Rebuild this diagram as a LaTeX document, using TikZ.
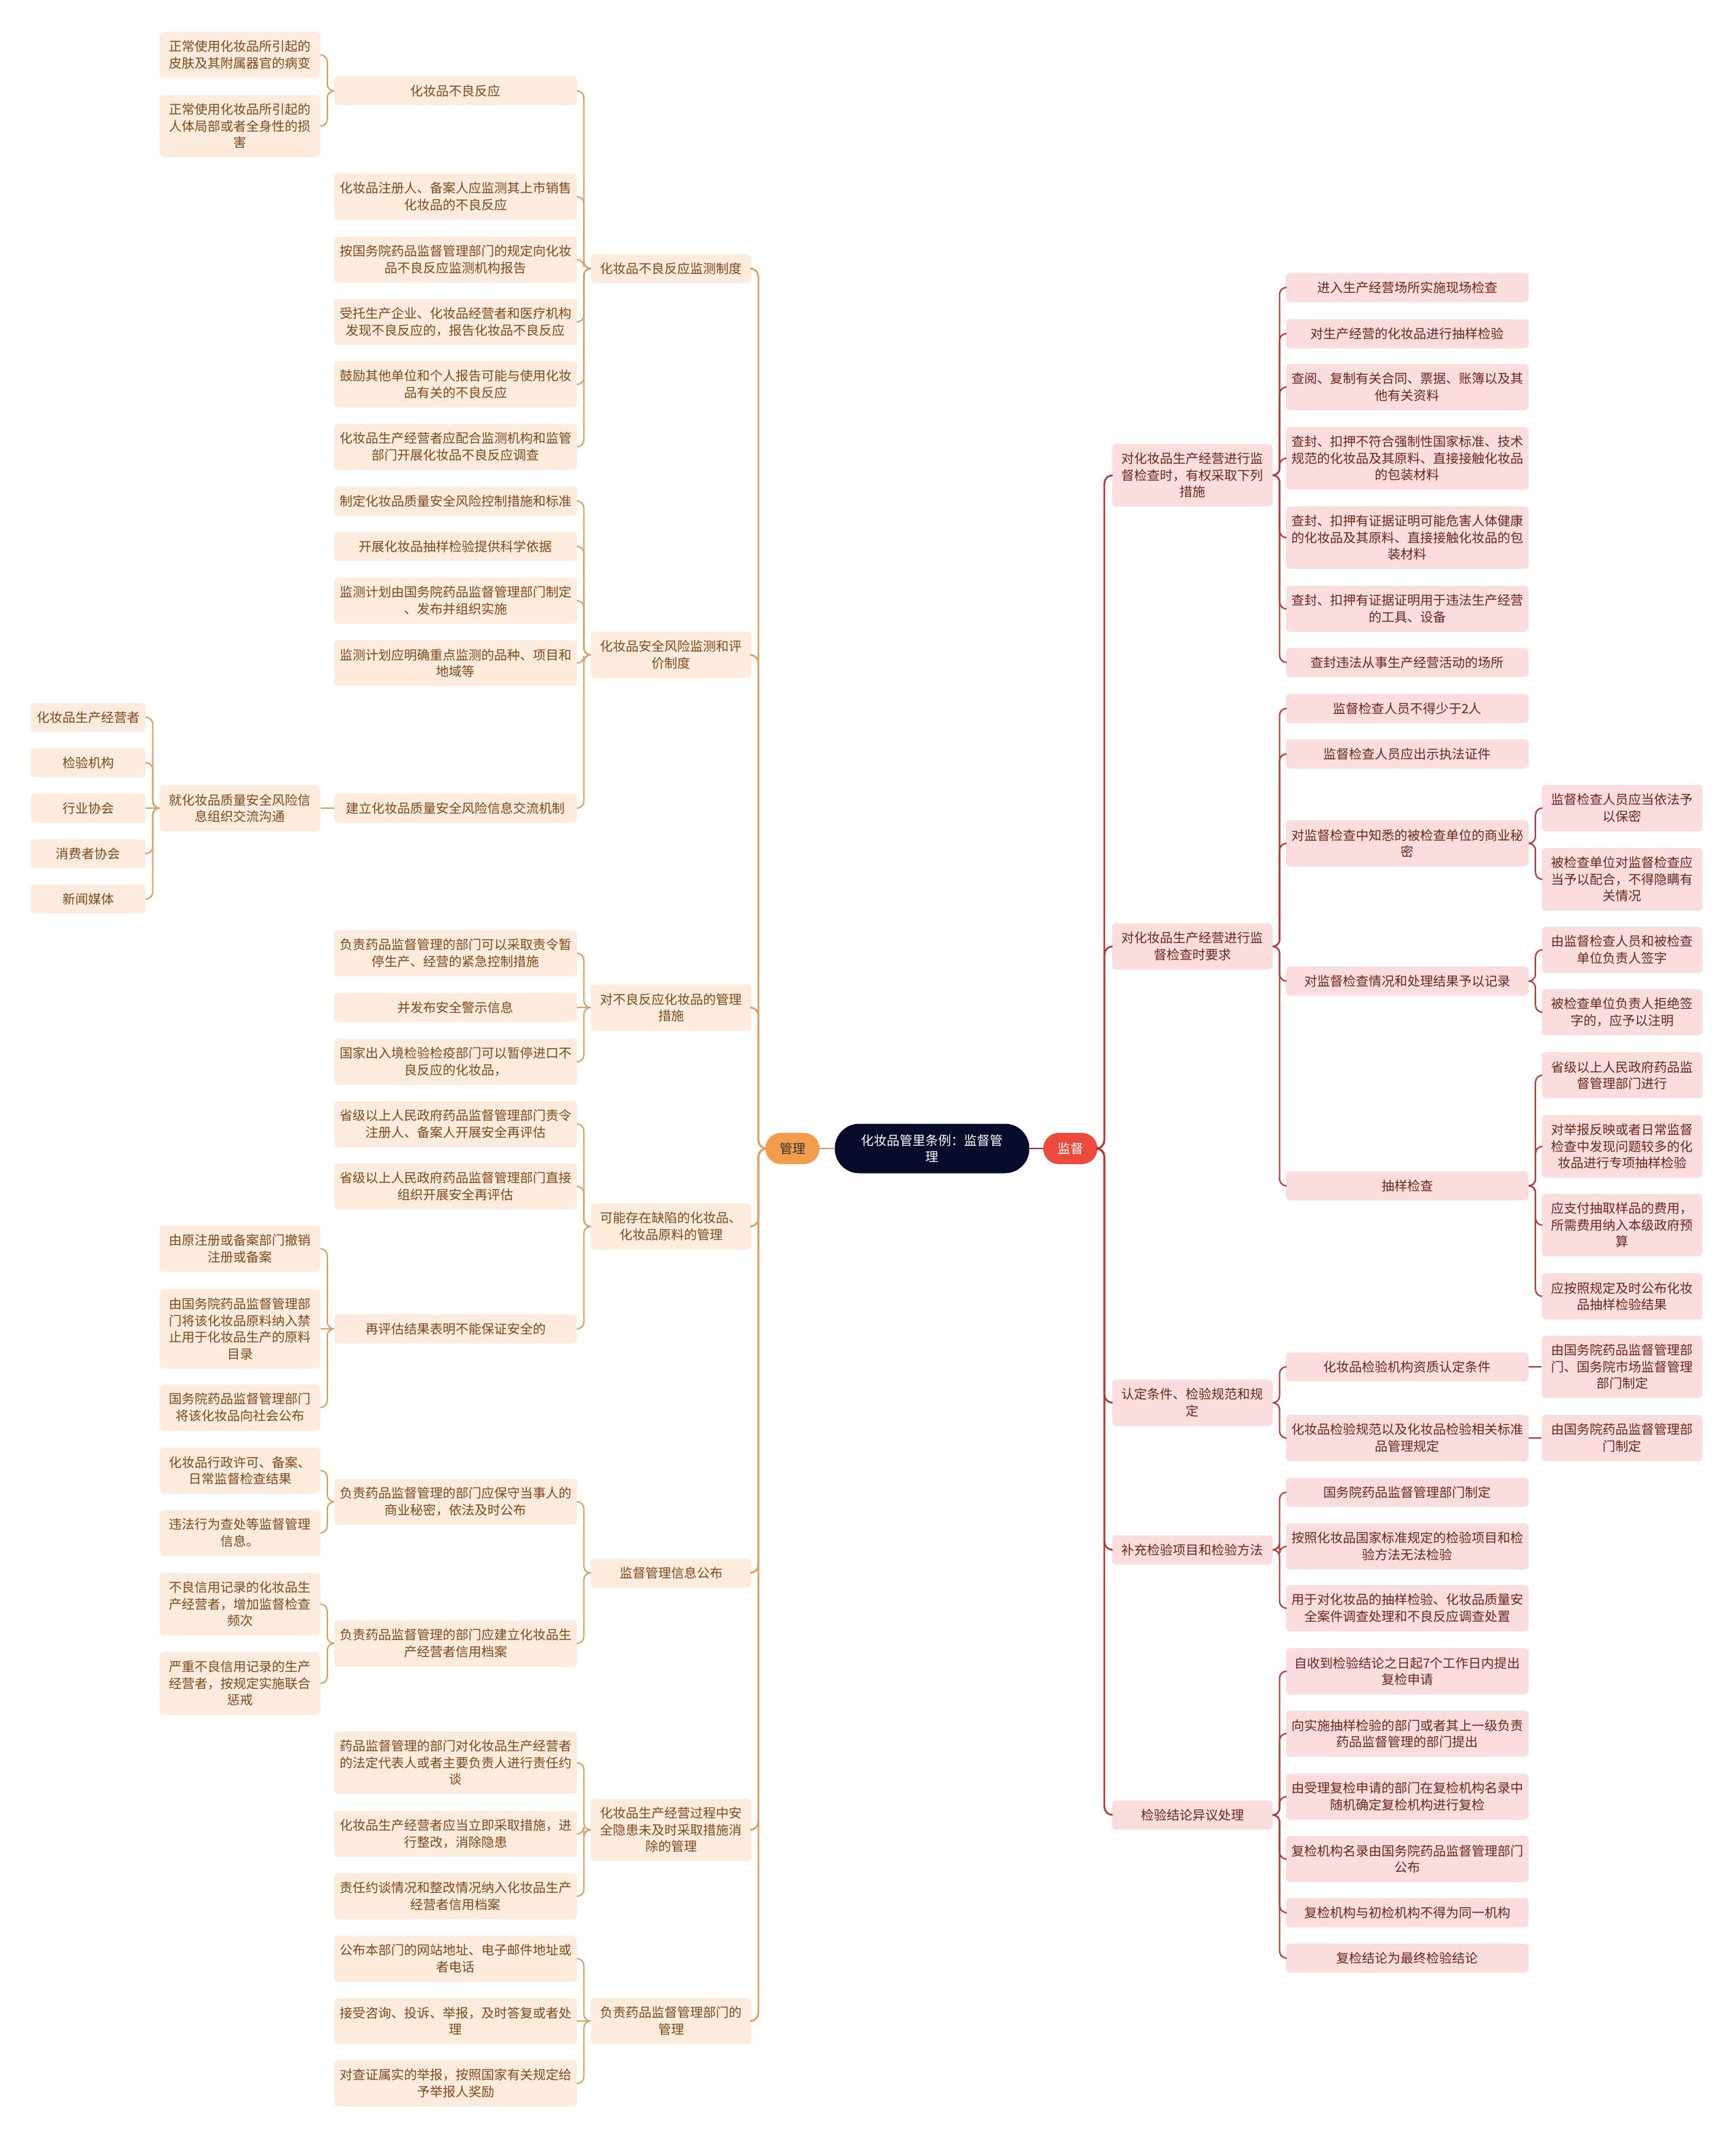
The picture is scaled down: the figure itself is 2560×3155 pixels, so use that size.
\documentclass[tikz,border=0pt]{standalone}
\usepackage{fontspec}
\setmainfont{Noto Sans CJK SC}
\definecolor{lfill}{HTML}{FDECDE}
\definecolor{rfill}{HTML}{FCDDDD}
\definecolor{lline}{HTML}{DDA062}
\definecolor{rline}{HTML}{BE322D}
\definecolor{ltext}{HTML}{7E4818}
\definecolor{rtext}{HTML}{6A261C}
\definecolor{cfill}{HTML}{080C2C}
\definecolor{gfill}{HTML}{F29D4B}
\definecolor{jfill}{HTML}{EC4A3C}
\tikzset{
 base/.style={rounded corners=6pt, align=center, inner xsep=4pt, inner ysep=2pt, font=\fontsize{19}{24.6}\selectfont},
 lbox/.style={base, fill=lfill, text=ltext},
 rbox/.style={base, fill=rfill, text=rtext},
 wA/.style={minimum width=358pt},
 wB/.style={minimum width=237pt},
 wC/.style={minimum width=169pt},
 n1/.style={minimum height=43pt},
 n2/.style={minimum height=68pt},
 n3/.style={minimum height=92pt},
 n4/.style={minimum height=117pt},
 lconn/.style={draw=lline, line width=2pt, rounded corners=10pt},
 rconn/.style={draw=rline, line width=2pt, rounded corners=10pt},
}
\newcommand\lk[2]{\draw[lconn] (#1.west) -- ++(-10,0) |- (#2.east);}
\newcommand\rk[2]{\draw[rconn] (#1.east) -- ++(10,0) |- (#2.west);}
\newcommand\ls[2]{\draw[lconn] (#1.west) -- (#2.east);}
\newcommand\rs[2]{\draw[rconn] (#1.east) -- (#2.west);}
\begin{document}
\begin{tikzpicture}[x=1pt,y=-1pt]
\fill[white] (0,0) rectangle (2560,3155);
\useasboundingbox (0,0) rectangle (2560,3155);

% centre
\node[base, fill=cfill, text=white, rounded corners=36pt, minimum width=287pt, minimum height=73pt] (c0) at (1375,1694) {化妆品管里条例：监督管\\理};
\node[base, fill=gfill, text=black!80, rounded corners=23pt, minimum width=80pt, minimum height=46pt] (gl) at (1169,1694) {管理};
\node[base, fill=jfill, text=white, rounded corners=23pt, minimum width=80pt, minimum height=46pt] (jd) at (1579,1694) {监督};
\draw[draw=lline, line width=2.5pt] (c0.west) -- (gl.east);
\draw[draw=rline, line width=2.5pt] (c0.east) -- (jd.west);

% ===== LEFT: level 1 =====
\node[lbox,wB,n1] (LA) at (990,396) {化妆品不良反应监测制度};
\node[lbox,wB,n2] (LB) at (990,966) {化妆品安全风险监测和评\\价制度};
\node[lbox,wB,n2] (LC) at (990,1486) {对不良反应化妆品的管理\\措施};
\node[lbox,wB,n2] (LD) at (990,1809) {可能存在缺陷的化妆品、\\化妆品原料的管理};
\node[lbox,wB,n1] (LE) at (990,2320) {监督管理信息公布};
\node[lbox,wB,n3] (LF) at (990,2699) {化妆品生产经营过程中安\\全隐患未及时采取措施消\\除的管理};
\node[lbox,wB,n2] (LG) at (990,2981) {负责药品监督管理部门的\\管理};
\foreach \n in {LA,LB,LC,LD,LE,LF,LG} {\draw[draw=lline, line width=2.5pt, rounded corners=12pt] (gl.west) -- ++(-10,0) |- (\n.east);}

% A
\node[lbox,wA,n1] (A1) at (672,134) {化妆品不良反应};
\node[lbox,wA,n2] (A2) at (672,290) {化妆品注册人、备案人应监测其上市销售\\化妆品的不良反应};
\node[lbox,wA,n2] (A3) at (672,383) {按国务院药品监督管理部门的规定向化妆\\品不良反应监测机构报告};
\node[lbox,wA,n2] (A4) at (672,475) {受托生产企业、化妆品经营者和医疗机构\\发现不良反应的，报告化妆品不良反应};
\node[lbox,wA,n2] (A5) at (672,567) {鼓励其他单位和个人报告可能与使用化妆\\品有关的不良反应};
\node[lbox,wA,n2] (A6) at (672,659) {化妆品生产经营者应配合监测机构和监管\\部门开展化妆品不良反应调查};
\foreach \n in {A1,A2,A3,A4,A5,A6} {\lk{LA}{\n}}
\node[lbox,wB,n2] (A1a) at (354,81) {正常使用化妆品所引起的\\皮肤及其附属器官的病变};
\node[lbox,wB,n3] (A1b) at (354,186) {正常使用化妆品所引起的\\人体局部或者全身性的损\\害};
\lk{A1}{A1a} \lk{A1}{A1b}

% B
\node[lbox,wA,n1] (B1) at (672,739) {制定化妆品质量安全风险控制措施和标准};
\node[lbox,wA,n1] (B2) at (672,806) {开展化妆品抽样检验提供科学依据};
\node[lbox,wA,n2] (B3) at (672,886) {监测计划由国务院药品监督管理部门制定\\、发布并组织实施};
\node[lbox,wA,n2] (B4) at (672,978) {监测计划应明确重点监测的品种、项目和\\地域等};
\node[lbox,wA,n1] (B5) at (672,1192) {建立化妆品质量安全风险信息交流机制};
\foreach \n in {B1,B2,B3,B4,B5} {\lk{LB}{\n}}
\node[lbox,wB,n2] (B5a) at (354,1192) {就化妆品质量安全风险信\\息组织交流沟通};
\ls{B5}{B5a}
\node[lbox,wC,n1] (F1) at (130,1058) {化妆品生产经营者};
\node[lbox,wC,n1] (F2) at (130,1125) {检验机构};
\node[lbox,wC,n1] (F3) at (130,1192) {行业协会};
\node[lbox,wC,n1] (F4) at (130,1259) {消费者协会};
\node[lbox,wC,n1] (F5) at (130,1326) {新闻媒体};
\foreach \n in {F1,F2,F4,F5} {\lk{B5a}{\n}}
\ls{B5a}{F3}

% C
\node[lbox,wA,n2] (C1) at (672,1406) {负责药品监督管理的部门可以采取责令暂\\停生产、经营的紧急控制措施};
\node[lbox,wA,n1] (C2) at (672,1486) {并发布安全警示信息};
\node[lbox,wA,n2] (C3) at (672,1566) {国家出入境检验检疫部门可以暂停进口不\\良反应的化妆品，};
\lk{LC}{C1} \ls{LC}{C2} \lk{LC}{C3}

% D
\node[lbox,wA,n2] (D1) at (672,1658) {省级以上人民政府药品监督管理部门责令\\注册人、备案人开展安全再评估};
\node[lbox,wA,n2] (D2) at (672,1750) {省级以上人民政府药品监督管理部门直接\\组织开展安全再评估};
\node[lbox,wA,n1] (D3) at (672,1960) {再评估结果表明不能保证安全的};
\foreach \n in {D1,D2,D3} {\lk{LD}{\n}}
\node[lbox,wB,n2] (D3a) at (354,1842) {由原注册或备案部门撤销\\注册或备案};
\node[lbox,wB,n4] (D3b) at (354,1960) {由国务院药品监督管理部\\门将该化妆品原料纳入禁\\止用于化妆品生产的原料\\目录};
\node[lbox,wB,n2] (D3c) at (354,2076) {国务院药品监督管理部门\\将该化妆品向社会公布};
\lk{D3}{D3a} \ls{D3}{D3b} \lk{D3}{D3c}

% E
\node[lbox,wA,n2] (E1) at (672,2215) {负责药品监督管理的部门应保守当事人的\\商业秘密，依法及时公布};
\node[lbox,wA,n2] (E2) at (672,2424) {负责药品监督管理的部门应建立化妆品生\\产经营者信用档案};
\lk{LE}{E1} \lk{LE}{E2}
\node[lbox,wB,n2] (E1a) at (354,2169) {化妆品行政许可、备案、\\日常监督检查结果};
\node[lbox,wB,n2] (E1b) at (354,2261) {违法行为查处等监督管理\\信息。};
\lk{E1}{E1a} \lk{E1}{E1b}
\node[lbox,wB,n3] (E2a) at (354,2366) {不良信用记录的化妆品生\\产经营者，增加监督检查\\频次};
\node[lbox,wB,n3] (E2b) at (354,2483) {严重不良信用记录的生产\\经营者，按规定实施联合\\惩戒};
\lk{E2}{E2a} \lk{E2}{E2b}

% F
\node[lbox,wA,n3] (G1) at (672,2600) {药品监督管理的部门对化妆品生产经营者\\的法定代表人或者主要负责人进行责任约\\谈};
\node[lbox,wA,n2] (G2) at (672,2705) {化妆品生产经营者应当立即采取措施，进\\行整改，消除隐患};
\node[lbox,wA,n2] (G3) at (672,2797) {责任约谈情况和整改情况纳入化妆品生产\\经营者信用档案};
\foreach \n in {G1,G2,G3} {\lk{LF}{\n}}

% G
\node[lbox,wA,n2] (H1) at (672,2889) {公布本部门的网站地址、电子邮件地址或\\者电话};
\node[lbox,wA,n2] (H2) at (672,2981) {接受咨询、投诉、举报，及时答复或者处\\理};
\node[lbox,wA,n2] (H3) at (672,3073) {对查证属实的举报，按照国家有关规定给\\予举报人奖励};
\lk{LG}{H1} \ls{LG}{H2} \lk{LG}{H3}

% ===== RIGHT: level 1 =====
\node[rbox,wB,n3] (RA) at (1759,701) {对化妆品生产经营进行监\\督检查时，有权采取下列\\措施};
\node[rbox,wB,n2] (RB) at (1759,1396) {对化妆品生产经营进行监\\督检查时要求};
\node[rbox,wB,n2] (RC) at (1759,2069) {认定条件、检验规范和规\\定};
\node[rbox,wB,n1] (RD) at (1759,2286) {补充检验项目和检验方法};
\node[rbox,wB,n1] (RE) at (1759,2677) {检验结论异议处理};
\foreach \n in {RA,RB,RC,RD,RE} {\draw[draw=rline, line width=2.5pt, rounded corners=12pt] (jd.east) -- ++(10,0) |- (\n.west);}

% RA
\node[rbox,wA,n1] (RA1) at (2076,424) {进入生产经营场所实施现场检查};
\node[rbox,wA,n1] (RA2) at (2076,492) {对生产经营的化妆品进行抽样检验};
\node[rbox,wA,n2] (RA3) at (2076,571) {查阅、复制有关合同、票据、账簿以及其\\他有关资料};
\node[rbox,wA,n3] (RA4) at (2076,676) {查封、扣押不符合强制性国家标准、技术\\规范的化妆品及其原料、直接接触化妆品\\的包装材料};
\node[rbox,wA,n3] (RA5) at (2076,793) {查封、扣押有证据证明可能危害人体健康\\的化妆品及其原料、直接接触化妆品的包\\装材料};
\node[rbox,wA,n2] (RA6) at (2076,898) {查封、扣押有证据证明用于违法生产经营\\的工具、设备};
\node[rbox,wA,n1] (RA7) at (2076,977) {查封违法从事生产经营活动的场所};
\foreach \n in {RA1,RA2,RA3,RA4,RA5,RA6,RA7} {\rk{RA}{\n}}

% RB
\node[rbox,wA,n1] (RB1) at (2076,1045) {监督检查人员不得少于2人};
\node[rbox,wA,n1] (RB2) at (2076,1112) {监督检查人员应出示执法证件};
\node[rbox,wA,n2] (RB3) at (2076,1244) {对监督检查中知悉的被检查单位的商业秘\\密};
\node[rbox,wA,n1] (RB4) at (2076,1447) {对监督检查情况和处理结果予以记录};
\node[rbox,wA,n1] (RB5) at (2076,1749) {抽样检查};
\foreach \n in {RB1,RB2,RB3,RB4,RB5} {\rk{RB}{\n}}
\node[rbox,wB,n2] (RB3a) at (2393,1192) {监督检查人员应当依法予\\以保密};
\node[rbox,wB,n3] (RB3b) at (2393,1297) {被检查单位对监督检查应\\当予以配合，不得隐瞒有\\关情况};
\rk{RB3}{RB3a} \rk{RB3}{RB3b}
\node[rbox,wB,n2] (RB4a) at (2393,1401) {由监督检查人员和被检查\\单位负责人签字};
\node[rbox,wB,n2] (RB4b) at (2393,1493) {被检查单位负责人拒绝签\\字的，应予以注明};
\rk{RB4}{RB4a} \rk{RB4}{RB4b}
\node[rbox,wB,n2] (RB5a) at (2393,1586) {省级以上人民政府药品监\\督管理部门进行};
\node[rbox,wB,n3] (RB5b) at (2393,1691) {对举报反映或者日常监督\\检查中发现问题较多的化\\妆品进行专项抽样检验};
\node[rbox,wB,n3] (RB5c) at (2393,1807) {应支付抽取样品的费用，\\所需费用纳入本级政府预\\算};
\node[rbox,wB,n2] (RB5d) at (2393,1912) {应按照规定及时公布化妆\\品抽样检验结果};
\foreach \n in {RB5a,RB5b,RB5c,RB5d} {\rk{RB5}{\n}}

% RC
\node[rbox,wA,n1] (RC1) at (2076,2016) {化妆品检验机构资质认定条件};
\node[rbox,wA,n2] (RC2) at (2076,2121) {化妆品检验规范以及化妆品检验相关标准\\品管理规定};
\rk{RC}{RC1} \rk{RC}{RC2}
\node[rbox,wB,n3] (RC1a) at (2393,2016) {由国务院药品监督管理部\\门、国务院市场监督管理\\部门制定};
\node[rbox,wB,n2] (RC2a) at (2393,2121) {由国务院药品监督管理部\\门制定};
\rs{RC1}{RC1a} \rs{RC2}{RC2a}

% RD
\node[rbox,wA,n1] (RD1) at (2076,2201) {国务院药品监督管理部门制定};
\node[rbox,wA,n2] (RD2) at (2076,2281) {按照化妆品国家标准规定的检验项目和检\\验方法无法检验};
\node[rbox,wA,n2] (RD3) at (2076,2372) {用于对化妆品的抽样检验、化妆品质量安\\全案件调查处理和不良反应调查处置};
\foreach \n in {RD1,RD2,RD3} {\rk{RD}{\n}}

% RE
\node[rbox,wA,n2] (RE1) at (2076,2465) {自收到检验结论之日起7个工作日内提出\\复检申请};
\node[rbox,wA,n2] (RE2) at (2076,2557) {向实施抽样检验的部门或者其上一级负责\\药品监督管理的部门提出};
\node[rbox,wA,n2] (RE3) at (2076,2650) {由受理复检申请的部门在复检机构名录中\\随机确定复检机构进行复检};
\node[rbox,wA,n2] (RE4) at (2076,2742) {复检机构名录由国务院药品监督管理部门\\公布};
\node[rbox,wA,n1] (RE5) at (2076,2821) {复检机构与初检机构不得为同一机构};
\node[rbox,wA,n1] (RE6) at (2076,2888) {复检结论为最终检验结论};
\foreach \n in {RE1,RE2,RE3,RE4,RE5,RE6} {\rk{RE}{\n}}
\end{tikzpicture}
\end{document}
